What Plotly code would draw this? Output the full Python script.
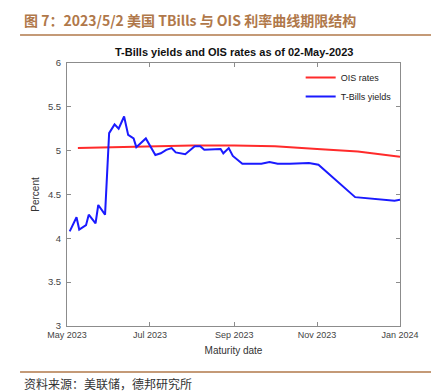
import plotly.graph_objects as go

# T-Bills yields (maturity date, percent)
tb_dates = ["2023-05-03", "2023-05-08", "2023-05-10", "2023-05-15", "2023-05-17", "2023-05-22",
            "2023-05-24", "2023-05-29", "2023-06-01", "2023-06-05", "2023-06-08", "2023-06-12",
            "2023-06-15", "2023-06-19", "2023-06-21", "2023-06-28", "2023-07-05", "2023-07-09",
            "2023-07-13", "2023-07-17", "2023-07-20", "2023-07-27", "2023-08-03", "2023-08-07",
            "2023-08-10", "2023-08-17", "2023-08-22", "2023-08-24", "2023-08-28", "2023-08-31",
            "2023-09-07", "2023-09-21", "2023-09-27", "2023-10-03", "2023-10-12", "2023-10-26",
            "2023-11-02", "2023-11-29", "2023-12-16", "2023-12-28", "2024-01-01"]
tb_vals = [4.08, 4.24, 4.10, 4.15, 4.27, 4.17,
           4.38, 4.27, 5.20, 5.30, 5.25, 5.39,
           5.18, 5.14, 5.04, 5.14, 4.95, 4.97,
           5.01, 5.03, 4.98, 4.96, 5.05, 5.05,
           5.01, 5.02, 5.02, 4.97, 5.03, 4.94,
           4.85, 4.85, 4.87, 4.85, 4.85, 4.86,
           4.84, 4.47, 4.45, 4.43, 4.44]

# OIS rates
ois_dates = ["2023-05-09", "2023-06-01", "2023-07-01", "2023-08-01", "2023-09-01",
             "2023-10-01", "2023-11-01", "2023-12-01", "2024-01-01"]
ois_vals = [5.03, 5.04, 5.05, 5.06, 5.06, 5.05, 5.02, 4.99, 4.93]

x_tickvals = ["2023-05-01", "2023-07-01", "2023-09-01", "2023-11-01", "2024-01-01"]
x_ticktext = ["May 2023", "Jul 2023", "Sep 2023", "Nov 2023", "Jan 2024"]
y_tickvals = [3, 3.5, 4, 4.5, 5, 5.5, 6]

fig = go.Figure()
fig.add_trace(go.Scatter(x=ois_dates, y=ois_vals, mode="lines", name="OIS rates",
                         line=dict(color="#ff2b2b", width=2)))
fig.add_trace(go.Scatter(x=tb_dates, y=tb_vals, mode="lines", name="T-Bills yields",
                         line=dict(color="#1a1aff", width=2)))

axis_col = "#8c8c8c"
tick_font = dict(family="Liberation Sans, Arial", size=9.5, color="#444444")
title_font = dict(family="Liberation Sans, Arial", size=10, color="#333333")
fig.update_xaxes(range=["2023-05-01", "2024-01-01"], tickvals=x_tickvals, ticktext=x_ticktext,
                 showgrid=False, zeroline=False, showline=True, linecolor=axis_col, linewidth=1,
                 mirror="ticks", ticks="inside", ticklen=4, tickcolor=axis_col,
                 tickfont=dict(family="Liberation Sans, Arial", size=9, color="#444444"),
                 title=dict(text="Maturity date", font=title_font, standoff=8))
fig.update_yaxes(range=[3, 6], tickvals=y_tickvals,
                 showgrid=False, zeroline=False, showline=True, linecolor=axis_col, linewidth=1,
                 mirror="ticks", ticks="inside", ticklen=4, tickcolor=axis_col,
                 tickfont=tick_font, ticklabelstandoff=3,
                 title=dict(text="Percent", font=title_font, standoff=6))

brown = "#b0784a"
fig.update_layout(
    width=431, height=383,
    margin=dict(l=59, r=39, t=55, b=65),
    paper_bgcolor="white", plot_bgcolor="white",
    showlegend=True,
    legend=dict(x=0.99, y=1.0, xanchor="right", yanchor="top", bgcolor="rgba(0,0,0,0)",
                font=dict(family="Liberation Sans, Arial", size=9, color="#222222"),
                tracegroupgap=0, itemwidth=30),
    shapes=[
        dict(type="line", xref="paper", yref="paper", x0=-0.141, x1=1.096, y0=1.1065, y1=1.1065,
             line=dict(color=brown, width=1.5)),
        dict(type="line", xref="paper", yref="paper", x0=-0.141, x1=1.096, y0=-0.175, y1=-0.175,
             line=dict(color=brown, width=1.5)),
    ],
    annotations=[
        dict(text="<b>图 7：2023/5/2 美国 TBills 与 OIS 利率曲线期限结构</b>", xref="paper", yref="paper",
             x=-0.135, y=1.163, xanchor="left", yanchor="middle", showarrow=False,
             font=dict(family="Noto Sans CJK SC, Liberation Sans", size=14, color=brown)),
        dict(text="<b>T-Bills yields and OIS rates as of 02-May-2023</b>", xref="paper", yref="paper",
             x=0.5, y=1.042, xanchor="center", yanchor="middle", showarrow=False,
             font=dict(family="Liberation Sans, Arial", size=11, color="#111111")),
        dict(text="资料来源：美联储，德邦研究所", xref="paper", yref="paper",
             x=-0.135, y=-0.2205, xanchor="left", yanchor="middle", showarrow=False,
             font=dict(family="Noto Sans CJK SC", size=12, color="#333333")),
    ],
)

fig.write_html("out.html")
